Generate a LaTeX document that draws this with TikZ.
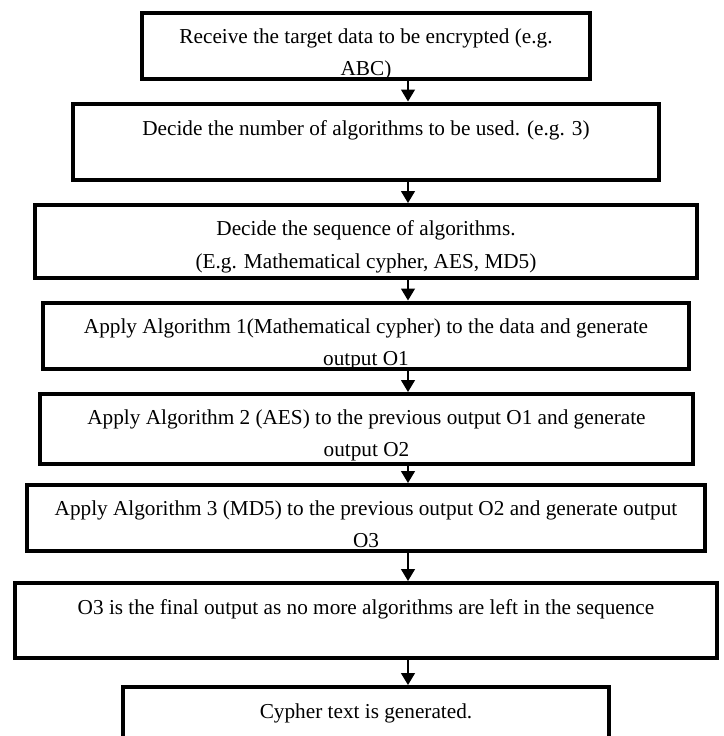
\documentclass[tikz,border=0pt]{standalone}
\usepackage{fontspec}
\setmainfont{Liberation Serif}
\usetikzlibrary{arrows.meta}
\newcommand\flowfont{\fontsize{21.25}{32.5}\selectfont}
\newcommand\twoline[2]{\parbox[t]{720pt}{\centering #1\\#2}}
\tikzset{
  flowbox/.style={rectangle, draw=black, line width=4pt, fill=white, inner sep=0pt, outer sep=0pt},
  flowtext/.style={font=\flowfont, anchor=base, inner sep=0pt, outer sep=0pt},
  flowarrow/.style={line width=1.2pt, shorten >=2pt, -{Triangle[width=14pt,length=12pt]}}
}
\newcommand\boxclip[1]{\clip ([shift={(2pt,2pt)}]#1.south west) rectangle ([shift={(-2pt,-2pt)}]#1.north east);}
\begin{document}
\begin{tikzpicture}[x=1pt,y=1pt]
\useasboundingbox (0,0) rectangle (723,-736);
\clip (0,0) rectangle (723,-736);
\coordinate (ax) at (408,0);
% boxes
\node[flowbox, minimum width=448pt, minimum height=66pt]   (b1) at (366,-45.5) {};
\node[flowbox, minimum width=586pt, minimum height=76.5pt] (b2) at (366,-141.75) {};
\node[flowbox, minimum width=662pt, minimum height=72.5pt] (b3) at (366,-241.25) {};
\node[flowbox, minimum width=646pt, minimum height=66pt]   (b4) at (366,-335.5) {};
\node[flowbox, minimum width=653pt, minimum height=70pt]   (b5) at (366.5,-429) {};
\node[flowbox, minimum width=678pt, minimum height=66pt]   (b6) at (366,-518) {};
\node[flowbox, minimum width=702pt, minimum height=75pt]   (b7) at (366,-620.5) {};
\node[flowbox, minimum width=486pt, minimum height=75pt]   (b8) at (366,-724.5) {};
% texts
\begin{scope}\boxclip{b1}
\node[flowtext] (t1) at (366,-43) {\twoline{Receive the target data to be encrypted (e.g.}{ABC)}};
\end{scope}
\begin{scope}\boxclip{b2}
\node[flowtext] (t2) at (366,-135) {Decide the number of algorithms to be used. (e.g. 3)};
\end{scope}
\begin{scope}\boxclip{b3}
\node[flowtext] (t3) at (366,-235.5) {\twoline{Decide the sequence of algorithms.}{(E.g. Mathematical cypher, AES, MD5)}};
\end{scope}
\begin{scope}\boxclip{b4}
\node[flowtext] (t4) at (366,-333) {\twoline{Apply Algorithm 1(Mathematical cypher) to the data and generate}{output O1}};
\end{scope}
\begin{scope}\boxclip{b5}
\node[flowtext] (t5) at (366.5,-424) {\twoline{Apply Algorithm 2 (AES) to the previous output O1 and generate}{output O2}};
\end{scope}
\begin{scope}\boxclip{b6}
\node[flowtext] (t6) at (366,-515) {\twoline{Apply Algorithm 3 (MD5) to the previous output O2 and generate output}{O3}};
\end{scope}
\begin{scope}\boxclip{b7}
\node[flowtext] (t7) at (366,-614) {O3 is the final output as no more algorithms are left in the sequence};
\end{scope}
\begin{scope}\boxclip{b8}
\node[flowtext] (t8) at (366,-718) {Cypher text is generated.};
\end{scope}
% arrows
\draw[flowarrow] (b1.south -| ax) -- (b2.north -| ax);
\draw[flowarrow] (b2.south -| ax) -- (b3.north -| ax);
\draw[flowarrow] (b3.south -| ax) -- (b4.north -| ax);
\draw[flowarrow] (b4.south -| ax) -- (b5.north -| ax);
\draw[flowarrow] (b5.south -| ax) -- (b6.north -| ax);
\draw[flowarrow] (b6.south -| ax) -- (b7.north -| ax);
\draw[flowarrow] (b7.south -| ax) -- (b8.north -| ax);
\end{tikzpicture}
\end{document}
